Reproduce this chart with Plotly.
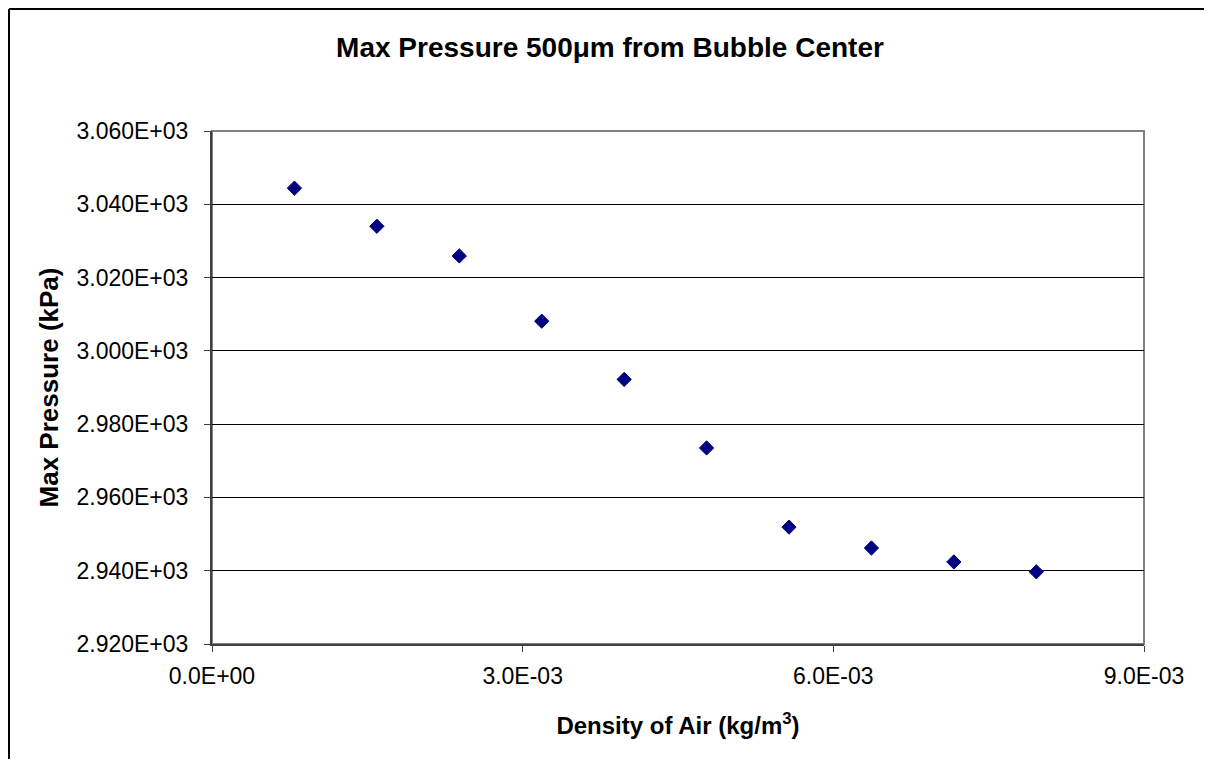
import plotly.graph_objects as go

# Data
density = [0.000796, 0.001592, 0.002388, 0.003184, 0.003980,
           0.004776, 0.005572, 0.006368, 0.007164, 0.007960]
max_pressure = [3044.4, 3034.0, 3025.9, 3008.1, 2992.2,
                2973.5, 2951.9, 2946.2, 2942.4, 2939.7]

y_ticks = [2920, 2940, 2960, 2980, 3000, 3020, 3040, 3060]
x_ticks = [0.0, 0.003, 0.006, 0.009]
y_ticktext = [f"{v:.3E}" for v in y_ticks]
x_ticktext = [f"{v:.1E}" for v in x_ticks]

title_text = "<b>Max Pressure 500μm from Bubble Center</b>"
x_title = "<b>Density of Air (kg/m<sup>3</sup>)</b>"
y_title = "<b>Max Pressure (kPa)</b>"

FONT = "Liberation Sans, Arial, sans-serif"

fig = go.Figure()
fig.add_trace(go.Scatter(
    x=density, y=max_pressure, mode="markers",
    marker=dict(symbol="diamond", size=11, color="#000080",
                line=dict(color="#000080", width=1)),
    showlegend=False,
))

# page body has an 8px margin, so figure coords = screen coords - 8
W, H = 1196, 751
L, R, T, B = 204, 60, 123, 115
pw, ph = W - L - R, H - T - B

def px_to_paper_x(px):
    return (px - L) / pw

def px_to_paper_y(py):
    return (H - B - py) / ph

border_left = px_to_paper_x(1)
border_top = px_to_paper_y(1)
border_right = px_to_paper_x(W + 50)
border_bottom = px_to_paper_y(H + 50)

fig.update_layout(
    width=W, height=H,
    margin=dict(l=L, r=R, t=T, b=B),
    paper_bgcolor="white", plot_bgcolor="white",
    font=dict(family=FONT, color="black", size=23),
    title=dict(text=title_text, x=602 / W, xref="container", xanchor="center",
               y=1 - 39 / H, yanchor="middle",
               font=dict(family=FONT, size=28, color="black")),
    xaxis=dict(
        range=[0, 0.009], tickvals=x_ticks, ticktext=x_ticktext,
        showgrid=False, zeroline=False,
        showline=True, linecolor="#404040", linewidth=2,
        ticks="outside", ticklen=6, tickcolor="#404040", tickwidth=1,
        ticklabelstandoff=4,
        tickfont=dict(size=23),
        title=dict(text=x_title, font=dict(size=24), standoff=30),
    ),
    yaxis=dict(
        range=[2920, 3060], tickvals=y_ticks, ticktext=y_ticktext,
        showgrid=True, gridcolor="black", gridwidth=1, zeroline=False,
        showline=True, linecolor="#404040", linewidth=2,
        ticks="outside", ticklen=6, tickcolor="#404040", tickwidth=1,
        ticklabelstandoff=11,
        tickfont=dict(size=23),
        title=dict(text=y_title, font=dict(size=26), standoff=10),
    ),
    shapes=[
        # plot area border (gray)
        dict(type="rect", xref="paper", yref="paper", x0=0, y0=0, x1=1, y1=1,
             line=dict(color="#808080", width=2), layer="below"),
        # outer chart border: left and top edges (right/bottom lie off the page)
        dict(type="line", xref="paper", yref="paper",
             x0=border_left, y0=border_bottom, x1=border_left, y1=border_top,
             line=dict(color="black", width=2), layer="above"),
        dict(type="line", xref="paper", yref="paper",
             x0=border_left, y0=border_top, x1=border_right, y1=border_top,
             line=dict(color="black", width=2), layer="above"),
    ],
)

fig.write_html("out.html")
